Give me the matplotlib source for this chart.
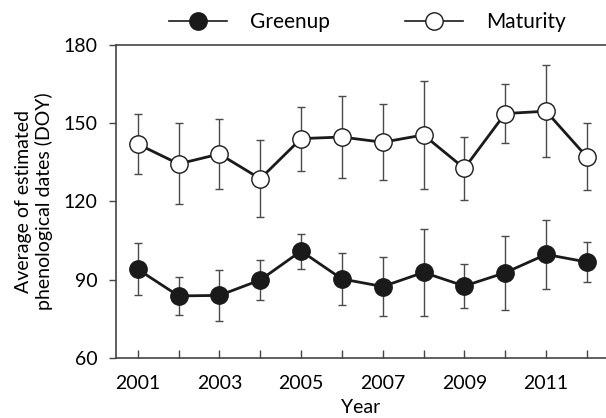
import matplotlib
matplotlib.use("Agg")
import matplotlib.pyplot as plt
from matplotlib.lines import Line2D

# values
years = [2001, 2002, 2003, 2004, 2005, 2006, 2007, 2008, 2009, 2010, 2011, 2012]

greenup_mean = [94.0, 83.8, 84.0, 89.9, 101.0, 90.3, 87.4, 92.8, 87.6, 92.7, 99.7, 96.8]
greenup_sd = [9.9, 7.4, 9.9, 7.6, 6.7, 10.0, 11.2, 16.8, 8.5, 14.2, 13.1, 7.6]

maturity_mean = [142.0, 134.4, 138.2, 128.7, 144.1, 144.7, 142.7, 145.5, 132.7, 153.7, 154.6, 137.1]
maturity_sd = [11.6, 15.5, 13.3, 14.7, 12.3, 15.6, 14.6, 20.6, 12.1, 11.2, 17.6, 12.8]

xticks = [2001, 2003, 2005, 2007, 2009, 2011]
yticks = [60, 90, 120, 150, 180]

plt.rcParams.update({"font.family": ["Lato", "DejaVu Sans"], "font.size": 14})

fig = plt.figure(figsize=(6.06, 4.18), dpi=100)
ax = fig.add_axes([0.191, 0.1435, 0.809, 0.749])

err_kw = dict(ecolor="#4a4a4a", elinewidth=1.0, capsize=3, capthick=1.0)

ax.errorbar(years, maturity_mean, yerr=maturity_sd, color="#1a1a1a", lw=2.0,
            marker="o", markersize=12.5, markerfacecolor="white",
            markeredgecolor="#1a1a1a", markeredgewidth=1.0, zorder=3, **err_kw)
ax.errorbar(years, greenup_mean, yerr=greenup_sd, color="#1a1a1a", lw=2.0,
            marker="o", markersize=12.5, markerfacecolor="#1a1a1a",
            markeredgecolor="#1a1a1a", zorder=3, **err_kw)

ax.set_xlim(2000.46, 2012.47)
ax.set_ylim(60, 180)
ax.set_xticks(years)
ax.set_xticklabels([str(y) if y in xticks else "" for y in years])
ax.set_yticks(yticks)

ax.spines["right"].set_visible(False)
for s in ["left", "bottom", "top"]:
    ax.spines[s].set_color("#444444")
    ax.spines[s].set_linewidth(1.2)

ax.tick_params(axis="x", direction="in", length=6, width=1, color="#444444", pad=12)
ax.tick_params(axis="y", direction="out", length=5, width=1, color="#444444", pad=8)

ax.set_xlabel("Year", labelpad=5)
ax.set_ylabel("Average of estimated\nphenological dates (DOY)", labelpad=8)

handles = [
    Line2D([], [], color="#1a1a1a", lw=1.2, marker="o", markersize=12.5,
           markerfacecolor="#1a1a1a", markeredgecolor="#1a1a1a"),
    Line2D([], [], color="#1a1a1a", lw=1.2, marker="o", markersize=12.5,
           markerfacecolor="white", markeredgecolor="#1a1a1a", markeredgewidth=1.0),
]
fig.legend(handles, ["Greenup", "Maturity"], loc="center", ncol=2,
           bbox_to_anchor=(0.606, 0.947), frameon=False, handlelength=2.8,
           handletextpad=1.1, columnspacing=3.6, fontsize=15)

fig.savefig("out.png", dpi=100)
